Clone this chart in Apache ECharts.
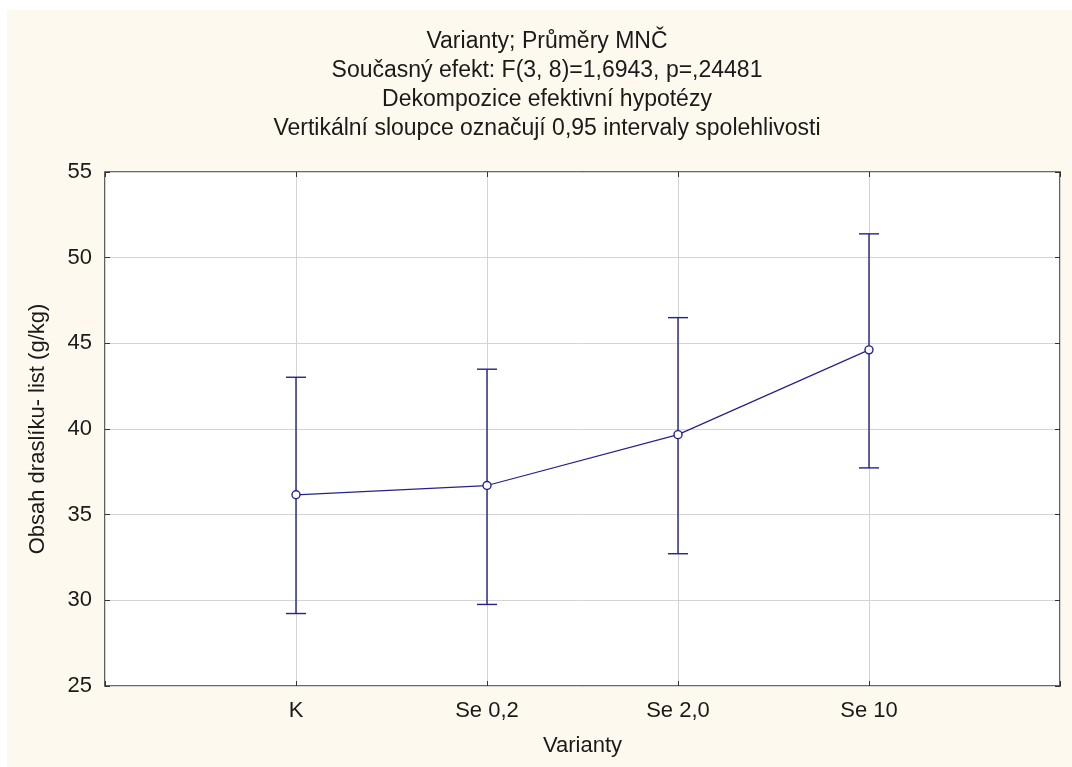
<!DOCTYPE html>
<html>
<head>
<meta charset="utf-8">
<script src="https://cdn.jsdelivr.net/npm/echarts@6/dist/echarts.min.js"></script>
<style>
  html, body { margin: 0; padding: 0; background: #ffffff; }
  #chart { position: absolute; left: 7px; top: 10px; width: 1065px; height: 757px; }
</style>
</head>
<body>
<div id="chart"></div>
<script>
// kategorie a hodnoty
const categories = ['K', 'Se 0,2', 'Se 2,0', 'Se 10'];
const means = [36.16, 36.70, 39.67, 44.62];
const lowerCI = [29.23, 29.76, 32.72, 37.73];
const upperCI = [43.02, 43.49, 46.50, 51.39];
const yTicks = [25, 30, 35, 40, 45, 50, 55];

const titleLines = [
    'Varianty; Průměry MNČ',
    'Současný efekt: F(3, 8)=1,6943, p=,24481',
    'Dekompozice efektivní hypotézy',
    'Vertikální sloupce označují 0,95 intervaly spolehlivosti'
];

// osa má prázdné místo na obou koncích
const axisData = [''].concat(categories, ['']);

const lineColor = '#23238a';
const fontFam = '"Liberation Sans", Arial, sans-serif';

let chart = echarts.init(document.getElementById('chart'));

let option = {
    backgroundColor: '#fef9ee',
    animation: false,
    title: {
        text: titleLines.join('\n'),
        left: 535,
        textAlign: 'center',
        top: 12,
        textStyle: {
            fontFamily: fontFam,
            fontSize: 23,
            fontWeight: 'normal',
            color: '#1a1a1a',
            lineHeight: 29
        }
    },
    grid: {
        left: 98,
        right: 12,
        top: 162,
        bottom: 81,
        show: true,
        backgroundColor: '#ffffff',
        borderColor: '#3a3a3a',
        borderWidth: 1.6
    },
    xAxis: [{
        type: 'category',
        data: axisData,
        boundaryGap: false,
        name: 'Varianty',
        nameLocation: 'middle',
        nameGap: 49,
        nameTextStyle: { fontFamily: fontFam, fontSize: 22, color: '#1a1a1a' },
        axisLine: { show: false },
        axisTick: { show: true, inside: true, length: 5, alignWithLabel: true, lineStyle: { color: '#333' } },
        axisLabel: { fontFamily: fontFam, fontSize: 22, color: '#1a1a1a', margin: 14, interval: 0 },
        splitLine: { show: true, lineStyle: { color: '#d4d4d4', width: 1 } }
    }, {
        type: 'category',
        position: 'top',
        data: axisData,
        boundaryGap: false,
        axisLine: { show: false },
        axisTick: { show: true, inside: true, length: 5, lineStyle: { color: '#333' } },
        axisLabel: { show: false },
        splitLine: { show: false }
    }],
    yAxis: [{
        type: 'value',
        min: 25,
        max: 55,
        interval: 5,
        name: 'Obsah draslíku- list (g/kg)',
        nameLocation: 'middle',
        nameGap: 56,
        nameTextStyle: { fontFamily: fontFam, fontSize: 22, color: '#1a1a1a' },
        axisLine: { show: false },
        axisTick: { show: true, inside: true, length: 5, lineStyle: { color: '#333' } },
        axisLabel: {
            fontFamily: fontFam, fontSize: 22, color: '#1a1a1a', margin: 13,
            formatter: function (v) { return yTicks.indexOf(v) >= 0 ? String(v) : ''; }
        },
        splitLine: { show: true, lineStyle: { color: '#d4d4d4', width: 1 } }
    }, {
        type: 'value',
        position: 'right',
        min: 25,
        max: 55,
        interval: 5,
        axisLine: { show: false },
        axisTick: { show: true, inside: true, length: 5, lineStyle: { color: '#333' } },
        axisLabel: { show: false },
        splitLine: { show: false }
    }],
    series: [{
        type: 'custom',
        name: 'CI',
        z: 3,
        data: categories.map(function (c, i) { return [c, lowerCI[i], upperCI[i]]; }),
        renderItem: function (params, api) {
            let x = api.value(0);
            let lo = api.coord([x, api.value(1)]);
            let hi = api.coord([x, api.value(2)]);
            let cap = 10;
            let st = { stroke: lineColor, lineWidth: 1.4, fill: null };
            return {
                type: 'group',
                children: [
                    { type: 'line', shape: { x1: lo[0], y1: lo[1], x2: hi[0], y2: hi[1] }, style: st },
                    { type: 'line', shape: { x1: lo[0] - cap, y1: lo[1], x2: lo[0] + cap, y2: lo[1] }, style: st },
                    { type: 'line', shape: { x1: hi[0] - cap, y1: hi[1], x2: hi[0] + cap, y2: hi[1] }, style: st }
                ]
            };
        },
        encode: { x: 0, y: [1, 2] }
    }, {
        type: 'line',
        name: 'Průměry',
        z: 4,
        data: categories.map(function (c, i) { return [c, means[i]]; }),
        symbol: 'circle',
        symbolSize: 8,
        showSymbol: true,
        lineStyle: { color: lineColor, width: 1.2 },
        itemStyle: { color: '#ffffff', borderColor: lineColor, borderWidth: 1.4 }
    }]
};

chart.setOption(option);
</script>
</body>
</html>
